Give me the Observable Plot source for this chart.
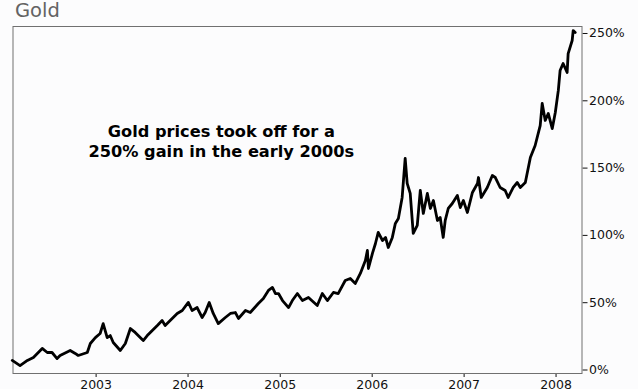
<!DOCTYPE html>
<html>
<head>
<meta charset="utf-8">
<script src="https://cdn.jsdelivr.net/npm/d3@7"></script>
<script src="https://cdn.jsdelivr.net/npm/@observablehq/plot@0.6"></script>
<style>
  html, body { margin: 0; padding: 0; background: #fcfcfd; overflow: hidden; }
  #title { height: 22px; line-height: 22px; padding-left: 15px; font-family: "DejaVu Sans", Verdana, sans-serif; font-size: 19.5px; color: #636363; }
  svg { display: block; }
</style>
</head>
<body>
<div id="title">Gold</div>
<div id="chart"></div>
<script>
const dates = ["2002-02-02","2002-03-05","2002-04-03","2002-04-27","2002-06-01","2002-06-21","2002-07-10","2002-07-30","2002-08-11","2002-09-20","2002-10-10","2002-10-22","2002-11-27","2002-12-09","2002-12-29",
"2003-01-17","2003-01-29","2003-02-14","2003-02-26","2003-03-10","2003-04-07","2003-04-27","2003-05-17","2003-06-05","2003-06-25","2003-07-07","2003-07-23","2003-08-04","2003-09-01","2003-09-20","2003-10-02","2003-10-22","2003-11-19","2003-12-09",
"2004-01-02","2004-01-17","2004-02-06","2004-02-26","2004-03-09","2004-03-25","2004-04-10","2004-04-30","2004-05-28","2004-06-17","2004-07-07","2004-07-19","2004-08-16","2004-09-04","2004-10-06","2004-10-26","2004-11-15","2004-12-01","2004-12-13","2004-12-25",
"2005-01-10","2005-02-03","2005-02-18","2005-03-10","2005-03-30","2005-04-23","2005-05-28","2005-06-17","2005-07-07","2005-07-31","2005-08-19","2005-09-16","2005-10-06","2005-10-26","2005-11-15","2005-12-05","2005-12-13","2005-12-17",
"2006-01-02","2006-01-14","2006-01-25","2006-02-11","2006-02-23","2006-03-06","2006-03-22","2006-04-03","2006-04-15","2006-04-30","2006-05-12","2006-05-20","2006-06-01","2006-06-13","2006-06-29","2006-07-11","2006-07-23","2006-08-08","2006-08-20","2006-09-01","2006-09-17","2006-09-28","2006-10-10","2006-10-18","2006-10-30","2006-11-15","2006-12-05","2006-12-17","2006-12-29",
"2007-01-14","2007-02-03","2007-02-23","2007-02-27","2007-03-10","2007-04-03","2007-04-23","2007-05-05","2007-05-24","2007-06-13","2007-06-25","2007-07-15","2007-07-31","2007-08-12","2007-09-01","2007-09-13","2007-09-21","2007-10-10","2007-10-30","2007-11-07","2007-11-19","2007-12-01","2007-12-17","2007-12-29",
"2008-01-10","2008-01-17","2008-01-29","2008-02-14","2008-02-18","2008-03-05","2008-03-09","2008-03-17"];
const gains = [7.1,3.3,7.1,9.3,16.0,13.0,13.0,8.5,10.8,14.5,12.3,10.8,13.0,19.7,24.1,
27.1,34.5,24.1,25.6,20.4,14.5,19.7,30.8,27.9,24.1,21.9,25.6,27.9,33.1,36.8,33.1,36.8,42.0,44.2,
50.2,44.2,46.4,39.0,42.7,50.2,42.0,34.5,39.0,42.0,42.7,38.3,44.2,42.7,49.4,53.1,59.1,61.3,56.8,56.8,
51.6,46.4,51.6,56.8,51.6,53.9,47.9,56.8,51.6,57.6,56.8,66.5,68.0,64.3,71.7,81.4,88.8,75.4,
86.6,94.0,102.2,96.2,98.5,91.0,98.5,108.9,112.6,128.2,157.2,138.6,131.2,101.5,107.4,133.4,116.3,131.2,120.0,125.9,111.1,113.3,98.5,111.1,120.0,123.7,129.7,120.7,125.9,
117.0,131.9,138.6,143.0,128.2,135.6,144.5,143.0,135.6,133.4,128.2,135.6,139.3,135.6,139.3,150.5,157.9,166.8,181.6,198.0,185.4,190.6,179.4,191.3,
207.7,222.5,227.7,221.0,235.1,244.8,252.2,250.7];
const yTicks = [0, 50, 100, 150, 200, 250];
const xTickYears = [2003, 2004, 2005, 2006, 2007, 2008];
const annotation = "Gold prices took off for a\n250% gain in the early 2000s";

const data = dates.map((d, i) => ({date: new Date(d + "T00:00:00Z"), gain: gains[i]}));
const xTicks = xTickYears.map(y => new Date(Date.UTC(y, 0, 1)));

const chart = Plot.plot({
  width: 638,
  height: 380,
  marginLeft: 12.5,
  marginRight: 56.5,
  marginTop: 4,
  marginBottom: 29,
  style: {fontFamily: "DejaVu Sans, Verdana, sans-serif", fontSize: "12.5px", color: "#111", background: "transparent"},
  x: {
    type: "utc",
    domain: [new Date("2002-02-05T00:00:00Z"), new Date("2008-04-13T00:00:00Z")],
    ticks: xTicks,
    tickFormat: d => String(d.getUTCFullYear()),
    tickSize: 4,
    tickPadding: 3,
    label: null
  },
  y: {
    domain: [-2.6, 255.2],
    ticks: yTicks,
    tickFormat: d => d + "%",
    axis: "right",
    tickSize: 5,
    tickPadding: 2,
    label: null
  },
  marks: [
    Plot.frame({stroke: "#707070", strokeWidth: 1}),
    Plot.line(data, {x: "date", y: "gain", stroke: "#000", strokeWidth: 2.8, strokeLinejoin: "round"}),
    Plot.text([annotation], {x: () => new Date("2004-05-12T00:00:00Z"), y: () => 170.5, text: d => d, fontWeight: "bold", fontSize: 16.2, lineHeight: 1.24, textAnchor: "middle", fill: "#000"})
  ]
});
document.getElementById("chart").appendChild(chart);
</script>
</body>
</html>
